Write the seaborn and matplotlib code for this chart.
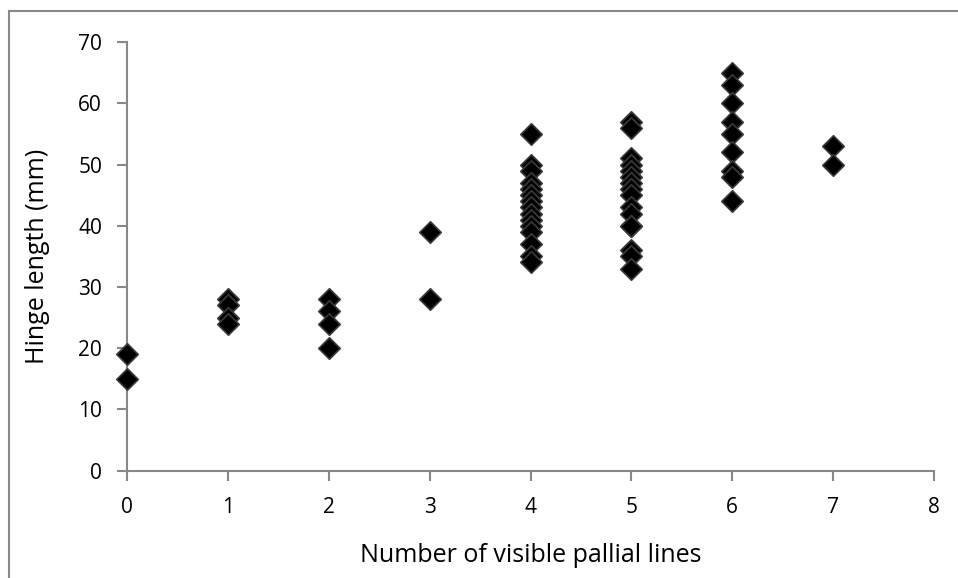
import pandas as pd
import matplotlib.pyplot as plt
import seaborn as sns
from matplotlib.patches import Rectangle

# Hinge length per number of visible pallial lines
lines_0 = [19, 15]
lines_1 = [28, 27, 25, 24]
lines_2 = [28, 26, 24, 20]
lines_3 = [39, 28]
lines_4 = [55, 50, 49, 47, 46, 45, 44, 43, 42, 41, 40, 39, 37, 35, 34]
lines_5 = [57, 56, 51, 50, 49, 48, 47, 46, 45, 43, 42, 40, 40, 36, 35, 33]
lines_6 = [65, 63, 60, 57, 55, 52, 49, 48, 44]
lines_7 = [53, 50]

groups = [lines_0, lines_1, lines_2, lines_3, lines_4, lines_5, lines_6, lines_7]
rows = []
for n, vals in enumerate(groups):
    for v in vals:
        rows.append({'lines': n, 'hinge': v})
data = pd.DataFrame(rows)

sns.set_style("white")
plt.rcParams['font.family'] = ['Open Sans', 'DejaVu Sans']

fig = plt.figure(figsize=(9.58, 5.78), dpi=100)
ax = fig.add_axes([0.1326, 0.1856, 0.8424, 0.7417])

sns.scatterplot(data=data, x='lines', y='hinge', ax=ax, marker='D', s=120,
                color='black', edgecolor='#3a3a3a', linewidth=1.2, zorder=3,
                clip_on=False)

ax.set_xlim(0, 8)
ax.set_ylim(0, 70)
ax.set_xticks(range(0, 9))
ax.set_yticks(range(0, 71, 10))
ax.tick_params(axis='both', labelsize=15, length=7, width=1.5, color='#888888',
               labelcolor='black', direction='out', left=True, bottom=True)
ax.tick_params(axis='x', pad=12)
ax.tick_params(axis='y', pad=11)
for side in ['top', 'right']:
    ax.spines[side].set_visible(False)
for side in ['left', 'bottom']:
    ax.spines[side].set_color('#888888')
    ax.spines[side].set_linewidth(1.5)

ax.set_xlabel('Number of visible pallial lines', fontsize=18, labelpad=18,
              color='black')
ax.set_ylabel('Hinge length (mm)', fontsize=18, labelpad=20, color='black')

# outer chart border (cut off at right and bottom)
fig.patches.append(Rectangle((9 / 958, -0.1), 1.2, 1 - 11 / 578 + 0.1,
                             transform=fig.transFigure, fill=False,
                             edgecolor='#888888', linewidth=1.5))

fig.savefig('out.png', dpi=100)
